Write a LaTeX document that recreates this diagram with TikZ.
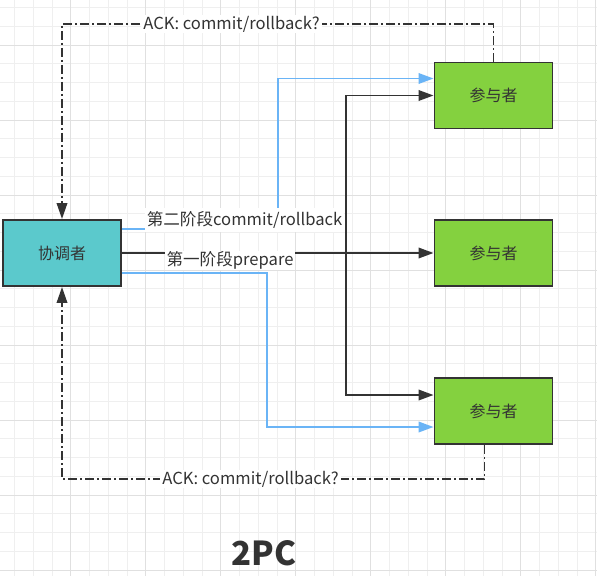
\documentclass[tikz,border=0pt]{standalone}
\usepackage{fontspec}
\setmainfont{Noto Sans CJK SC}
\usetikzlibrary{arrows.meta}

\definecolor{scuro}{HTML}{333333}
\definecolor{azzurro}{HTML}{6AB4F6}
\definecolor{turchese}{HTML}{5BC9CC}
\definecolor{verde}{HTML}{84D13F}
\definecolor{grigliaf}{HTML}{EFEFEF}
\definecolor{grigliag}{HTML}{E0E0E0}

\tikzset{
    ruolo/.style={draw=scuro, line width=1.9pt, minimum width=118pt, minimum height=66pt,
        text=scuro, font=\fontsize{16}{16}\selectfont},
    prepare/.style={draw=scuro, line width=1.9pt, -{Triangle[length=15pt,width=10.5pt]}},
    commit/.style={draw=azzurro, line width=1.9pt, -{Triangle[length=15pt,width=10.5pt]}},
    ack/.style={draw=scuro, line width=1.9pt, dash pattern=on 9pt off 3pt on 2pt off 3pt,
        -{Triangle[length=16pt,width=10.5pt]}},
    etichetta/.style={fill=white, text=scuro, inner xsep=2pt, inner ysep=0pt,
        font=\fontsize{16.6}{16.6}\selectfont}
}

\begin{document}
\begin{tikzpicture}[x=1pt, y=-1pt]
        \useasboundingbox (0,0) rectangle (597,576);
        \fill[white] (0,0) rectangle (597,576);

        % griglia di sfondo
        \foreach \i in {0,...,32} {
            \draw[grigliaf, line width=0.8pt] ({-4.3+18.75*\i},0) -- ({-4.3+18.75*\i},576);
            \draw[grigliaf, line width=0.8pt] (0,{7.5+18.75*\i}) -- (597,{7.5+18.75*\i});
        }
        \foreach \i in {0,...,8} {
            \draw[grigliag, line width=0.9pt] ({-4.3+75*\i},0) -- ({-4.3+75*\i},576);
            \draw[grigliag, line width=0.9pt] (0,{-30+75*\i}) -- (597,{-30+75*\i});
        }

        % nodi
        \node[ruolo, fill=turchese] (coord) at (62,253) {协调者};
        \node[ruolo, fill=verde] (p1) at (493.5,95.5) {参与者};
        \node[ruolo, fill=verde] (p2) at (493.5,253) {参与者};
        \node[ruolo, fill=verde] (p3) at (493.5,411) {参与者};

        % punti di svolta
        \coordinate (bivio) at (346,253);
        \coordinate (salita) at (278,78.5);
        \coordinate (discesa) at (267,427);
        \coordinate (ackalto) at (62,24);
        \coordinate (ackbasso) at (62,479);

        % primo stadio: prepare
        \draw[prepare] (coord.east) -- (p2.west);
        \draw[prepare] (bivio) |- (p1.west);
        \draw[prepare] (bivio) |- ([yshift=16pt]p3.west);

        % secondo stadio: commit/rollback
        \draw[commit] ([yshift=24pt]coord.east) -| (salita) -- ([yshift=17pt]p1.west);
        \draw[commit] ([yshift=-20pt]coord.east) -| (discesa) -- ([yshift=-16pt]p3.west);

        % risposte
        \draw[ack] (p1.north) |- (ackalto) -- (coord.north);
        \draw[ack] ([xshift=-9pt]p3.south) |- (ackbasso) -- (coord.south);

        % etichette
        \node[etichetta, minimum height=24pt] (lcommit) at (244.5,220) {第二阶段commit/rollback};
        \node[etichetta, minimum height=19pt] (lprepare) at (230,260) {第一阶段prepare};
        \node[etichetta, minimum height=18pt] (lackalto) at (231.5,24) {ACK: commit/rollback?};
        \node[etichetta, minimum height=18pt] (lackbasso) at (250.5,479) {ACK: commit/rollback?};

        \node[text=scuro, font=\bfseries\fontsize{33}{33}\selectfont] (titolo) at (264,553) {2PC};
    \end{tikzpicture}
\end{document}
